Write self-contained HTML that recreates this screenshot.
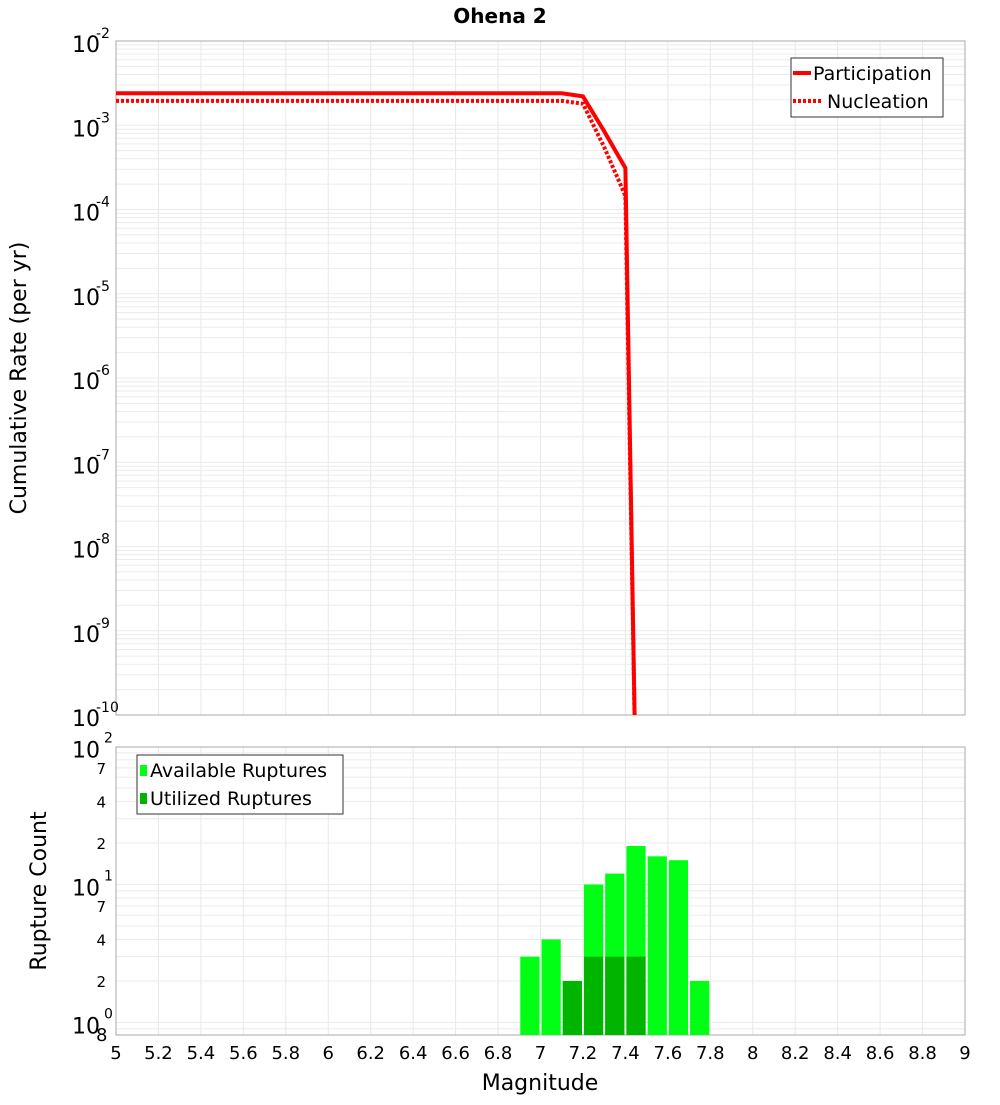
<!DOCTYPE html>
<html><head><meta charset="utf-8"><style>
body{margin:0;background:#fff;width:1000px;height:1100px;overflow:hidden}
text{font-family:"DejaVu Sans","Liberation Sans",sans-serif}
</style></head><body>
<svg id="c" width="1000" height="1100">
<text x="500" y="23" text-anchor="middle" font-size="20" font-weight="bold">Ohena 2</text>
<g id="topPlot"></g>
<g id="botPlot"></g>
<text transform="translate(26,378) rotate(-90)" text-anchor="middle" font-size="22">Cumulative Rate (per yr)</text>
<text transform="translate(46,891) rotate(-90)" text-anchor="middle" font-size="22">Rupture Count</text>
<text x="540" y="1090" text-anchor="middle" font-size="22">Magnitude</text>
</svg>
<script>
const xTicks=["5","5.2","5.4","5.6","5.8","6","6.2","6.4","6.6","6.8","7","7.2","7.4","7.6","7.8","8","8.2","8.4","8.6","8.8","9"];
const partMag=[5.0,7.1,7.2,7.3,7.4,7.45];
const partRate=[2.4e-3,2.4e-3,2.2e-3,8.5e-4,3.1e-4,1e-11];
const nuclMag=[5.0,7.1,7.2,7.3,7.4,7.45];
const nuclRate=[1.95e-3,1.95e-3,1.8e-3,5.5e-4,1.45e-4,1e-11];
const binMag=[6.95,7.05,7.15,7.25,7.35,7.45,7.55,7.65,7.75];
const availCount=[3,4,2,10,12,19,16,15,2];
const usedCount=[0,0,2,3,3,3,0,0,0];
const NS="http://www.w3.org/2000/svg";
const L=116,R=965;
const X=m=>L+(m-5)/4*(R-L);
const T0=41,T1=715;const Yt=v=>T0+(-2-Math.log10(v))/8*(T1-T0);
const B0=747,B1=1035;const Yb=v=>1022.5-Math.log10(v)*138;
function el(p,t,a,name){const e=document.createElementNS(NS,t);for(const k in a)e.setAttribute(k,a[k]);p.appendChild(e);return e;}
const gTop=document.getElementById('topPlot'),gBot=document.getElementById('botPlot');
for(let i=0;i<=20;i++){const x=X(5+i*0.2);
el(gTop,'line',{x1:x,x2:x,y1:T0,y2:T1,stroke:'#e8e8e8'},'x-grid-top');
el(gBot,'line',{x1:x,x2:x,y1:B0,y2:B1,stroke:'#e8e8e8'},'x-grid-bottom');}
for(let d=-10;d<-2;d++)for(let k=1;k<10;k++){const y=Yt(k*Math.pow(10,d));el(gTop,'line',{x1:L,x2:R,y1:y,y2:y,stroke:'#ebebeb'},'y-grid-top');}
for(let d=-1;d<2;d++)for(let k=1;k<10;k++){const v=k*Math.pow(10,d);const y=Yb(v);if(y>B1||y<B0)continue;el(gBot,'line',{x1:L,x2:R,y1:y,y2:y,stroke:'#ebebeb'},'y-grid-bottom');}
el(gTop,'rect',{x:L,y:T0,width:R-L,height:T1-T0,fill:'none',stroke:'#aaa'},'plot-frame-top');
el(gBot,'rect',{x:L,y:B0,width:R-L,height:B1-B0,fill:'none',stroke:'#aaa'},'plot-frame-bottom');
for(let d=-2;d>=-10;d--){const y=Yt(Math.pow(10,d));
const t=el(gTop,'text',{x:72,y:y+11,'font-size':22},'y-tick-label-top');t.textContent='10';
const s=el(gTop,'text',{x:96,y:y-3,'font-size':14},'y-tick-exp-top');s.textContent=String(d);}
[[2,100],[1,10],[0,1]].forEach(([e,v])=>{const y=Yb(v);
const t=el(gBot,'text',{x:72,y:y+11,'font-size':22},'y-tick-label-bottom');t.textContent='10';
const s=el(gBot,'text',{x:104,y:y-4,'font-size':14},'y-tick-exp-bottom');s.textContent=String(e);});
[2,4,7,20,40,70].forEach(v=>{const t=el(gBot,'text',{x:106,y:Yb(v)+6,'font-size':15,'text-anchor':'end'},'y-minor-label');t.textContent=String(v)[0];});
const t8=el(gBot,'text',{x:96,y:1041,'font-size':18},'y-tick-extra');t8.textContent='8';
xTicks.forEach(s=>{const t=el(gBot,'text',{x:X(+s),y:1059,'font-size':18,'text-anchor':'middle'},'x-tick-label');t.textContent=s;});
const cp=el(gTop,'clipPath',{id:'cl'},'clip');el(cp,'rect',{x:L,y:T0,width:R-L,height:T1-T0},'clip-rect');
el(gTop,'polyline',{points:partMag.map((m,i)=>X(m)+','+Yt(partRate[i])).join(' '),fill:'none',stroke:'#f00','stroke-width':4,'clip-path':'url(#cl)'},'participation-line');
el(gTop,'polyline',{points:nuclMag.map((m,i)=>X(m)+','+Yt(nuclRate[i])).join(' '),fill:'none',stroke:'#f00','stroke-width':4,'stroke-dasharray':'3,2','clip-path':'url(#cl)'},'nucleation-line');
el(gTop,'rect',{x:791,y:58,width:152,height:59,fill:'#fff',stroke:'#333'},'legend-top');
el(gTop,'line',{x1:793,x2:811,y1:73,y2:73,stroke:'#f00','stroke-width':4},'legend-participation-swatch');
el(gTop,'line',{x1:793,x2:823,y1:101,y2:101,stroke:'#f00','stroke-width':4,'stroke-dasharray':'3,2'},'legend-nucleation-swatch');
let t=el(gTop,'text',{x:813,y:80,'font-size':19},'legend-participation');t.textContent='Participation';
t=el(gTop,'text',{x:827,y:108,'font-size':19},'legend-nucleation');t.textContent='Nucleation';
const w=X(5.1)-X(5);
binMag.forEach((m,i)=>{const x=X(m-0.05)+1;
if(availCount[i]>0)el(gBot,'rect',{x:x,y:Yb(availCount[i]),width:w-2,height:B1-Yb(availCount[i]),fill:'#00ff14'},'bar-available');
if(usedCount[i]>0)el(gBot,'rect',{x:x,y:Yb(usedCount[i]),width:w-2,height:B1-Yb(usedCount[i]),fill:'#00b400'},'bar-utilized');});
el(gBot,'rect',{x:137,y:755,width:206,height:59,fill:'#fff',stroke:'#333'},'legend-bottom');
el(gBot,'rect',{x:140,y:765,width:7,height:11,fill:'#00ff14'},'legend-available-swatch');
el(gBot,'rect',{x:140,y:793,width:7,height:11,fill:'#00b400'},'legend-utilized-swatch');
t=el(gBot,'text',{x:150,y:777,'font-size':19},'legend-available');t.textContent='Available Ruptures';
t=el(gBot,'text',{x:150,y:805,'font-size':19},'legend-utilized');t.textContent='Utilized Ruptures';
</script>
</body></html>
